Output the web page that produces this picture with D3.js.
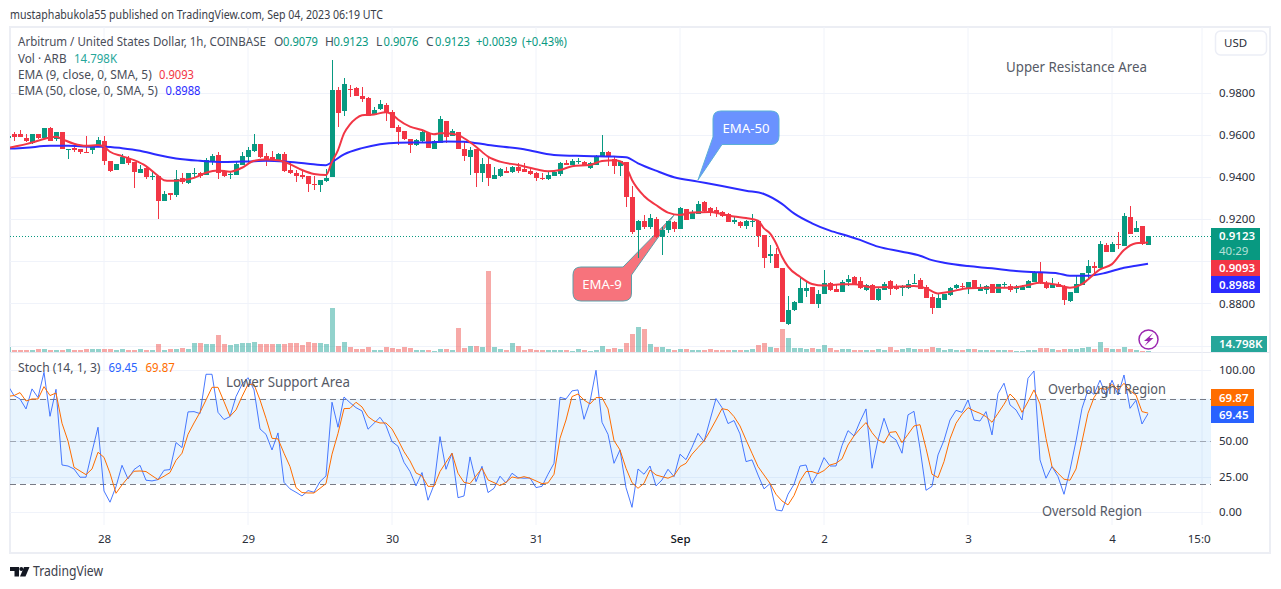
<!DOCTYPE html>
<html>
<head>
<meta charset="utf-8">
<script src="https://cdn.jsdelivr.net/npm/d3@7"></script>
<style>
  html, body { margin: 0; padding: 0; background: #fff; overflow: hidden; }
  text { font-family: "Noto Sans", sans-serif; }
</style>
</head>
<body>
<svg id="chart" width="1281" height="589"></svg>
<script>
// one entry per hourly bar, first bar is 27 Aug 08:00 UTC (just left of the pane)
const opens = [.9585,
  .9605,.9605,.9586,.9564,.9605,.9584,.9635,.9580,.9616,.9532,
  .9538,.9532,.9522,.9529,.9546,.9572,.9477,.9435,.9462,.9491,
  .9472,.9421,.9443,.9402,.9405,.9288,.9323,.9315,.9394,.9374,
  .9418,.9418,.9412,.9475,.9505,.9429,.9414,.9412,.9459,.9497,
  .9526,.9557,.9499,.9494,.9481,.9510,.9434,.9421,.9410,.9405,
  .9370,.9362,.9383,.9402,.9814,.9716,.9819,.9823,.9785,.9774,
  .9695,.9722,.9743,.9711,.9638,.9619,.9580,.9553,.9572,.9608,
  .9534,.9561,.9667,.9596,.9615,.9534,.9498,.9533,.9420,.9463,
  .9392,.9406,.9430,.9423,.9450,.9439,.9430,.9420,.9396,.9392,
  .9407,.9415,.9468,.9458,.9474,.9472,.9444,.9460,.9498,.9520,
  .9485,.9453,.9474,.9306,.9149,.9192,.9162,.9201,.9118,.9149,
  .9189,.9154,.9249,.9201,.9225,.9282,.9255,.9244,.9235,.9224,
  .9187,.9189,.9168,.9186,.9192,.9124,.9027,.9035,.8969,.8703,
  .8769,.8801,.8859,.8878,.8798,.8847,.8899,.8870,.8856,.8902,
  .8926,.8905,.8864,.8888,.8815,.8864,.8907,.8877,.8877,.8873,
  .8895,.8911,.8877,.8831,.8780,.8816,.8840,.8872,.8883,.8872,
  .8911,.8861,.8864,.8891,.8850,.8888,.8883,.8867,.8864,.8873,
  .8903,.8949,.8897,.8873,.8895,.8880,.8813,.8850,.8888,.8943,
  .8976,.8970,.9078,.9044,.9084,.9074,.9209,.9141,.9168,.9079]
const highs = [.9600,
  .9616,.9624,.9605,.9605,.9605,.9632,.9638,.9614,.9616,.9534,
  .9551,.9532,.9598,.9549,.9589,.9598,.9477,.9461,.9510,.9500,
  .9472,.9457,.9450,.9423,.9405,.9336,.9323,.9434,.9418,.9418,
  .9446,.9426,.9489,.9510,.9518,.9434,.9429,.9470,.9519,.9545,
  .9605,.9557,.9516,.9526,.9513,.9519,.9478,.9434,.9434,.9405,
  .9405,.9386,.9437,.9957,.9830,.9869,.9838,.9830,.9830,.9782,
  .9732,.9766,.9751,.9719,.9648,.9619,.9580,.9580,.9619,.9616,
  .9577,.9691,.9667,.9629,.9615,.9574,.9544,.9533,.9490,.9490,
  .9449,.9444,.9450,.9455,.9469,.9466,.9442,.9426,.9422,.9431,
  .9431,.9474,.9482,.9487,.9490,.9479,.9472,.9506,.9601,.9525,
  .9498,.9476,.9474,.9358,.9197,.9221,.9225,.9213,.9165,.9194,
  .9194,.9260,.9251,.9244,.9287,.9289,.9260,.9257,.9241,.9228,
  .9213,.9194,.9197,.9225,.9192,.9124,.9078,.9064,.8969,.8836,
  .8812,.8923,.8902,.8878,.8864,.8959,.8902,.8886,.8912,.8935,
  .8932,.8925,.8891,.8895,.8875,.8903,.8914,.8895,.8888,.8911,
  .8940,.8919,.8888,.8845,.8843,.8846,.8877,.8894,.8899,.8903,
  .8911,.8892,.8888,.8892,.8892,.8902,.8891,.8889,.8888,.8911,
  .8954,.8998,.8908,.8919,.8900,.8888,.8856,.8932,.8946,.9006,
  .8998,.9098,.9089,.9093,.9139,.9228,.9263,.9193,.9168,.9123]
const lows = [.9580,
  .9573,.9589,.9568,.9557,.9583,.9584,.9572,.9573,.9532,.9488,
  .9522,.9510,.9516,.9510,.9545,.9456,.9424,.9434,.9462,.9457,
  .9350,.9418,.9393,.9385,.9202,.9288,.9294,.9307,.9370,.9369,
  .9399,.9394,.9410,.9457,.9393,.9402,.9393,.9410,.9457,.9469,
  .9521,.9492,.9453,.9478,.9473,.9426,.9415,.9378,.9391,.9331,
  .9339,.9331,.9378,.9402,.9640,.9690,.9782,.9784,.9758,.9690,
  .9695,.9719,.9668,.9632,.9553,.9576,.9516,.9549,.9568,.9540,
  .9534,.9561,.9561,.9596,.9533,.9477,.9411,.9355,.9379,.9358,
  .9390,.9403,.9422,.9422,.9422,.9425,.9409,.9382,.9387,.9385,
  .9406,.9406,.9458,.9457,.9463,.9452,.9441,.9458,.9498,.9455,
  .9415,.9406,.9257,.9132,.9018,.9152,.9156,.9111,.9030,.9137,
  .9141,.9152,.9195,.9200,.9224,.9236,.9216,.9209,.9213,.9186,
  .9178,.9160,.9154,.9162,.9070,.8970,.8992,.8967,.8714,.8698,
  .8766,.8801,.8832,.8796,.8780,.8845,.8861,.8853,.8855,.8883,
  .8888,.8868,.8861,.8815,.8812,.8864,.8840,.8864,.8835,.8867,
  .8894,.8867,.8824,.8750,.8778,.8815,.8838,.8870,.8875,.8845,
  .8869,.8859,.8845,.8848,.8848,.8880,.8856,.8851,.8864,.8872,
  .8902,.8895,.8867,.8872,.8877,.8793,.8808,.8848,.8886,.8922,
  .8943,.8968,.9043,.9043,.9057,.9073,.9130,.9139,.9078,.9076]
const closes = [.9595,
  .9592,.9589,.9573,.9605,.9586,.9632,.9573,.9614,.9534,.9534,
  .9529,.9519,.9519,.9549,.9576,.9478,.9431,.9461,.9497,.9467,
  .9424,.9440,.9399,.9404,.9288,.9321,.9317,.9393,.9378,.9418,
  .9421,.9407,.9484,.9500,.9421,.9407,.9417,.9462,.9500,.9529,
  .9557,.9494,.9484,.9481,.9510,.9431,.9418,.9407,.9399,.9367,
  .9364,.9386,.9396,.9814,.9703,.9842,.9817,.9785,.9771,.9692,
  .9719,.9747,.9703,.9636,.9616,.9580,.9553,.9576,.9614,.9541,
  .9572,.9677,.9593,.9620,.9534,.9501,.9529,.9419,.9463,.9398,
  .9411,.9441,.9422,.9450,.9430,.9426,.9415,.9396,.9393,.9411,
  .9426,.9469,.9460,.9477,.9477,.9453,.9466,.9501,.9520,.9495,
  .9455,.9476,.9306,.9140,.9192,.9165,.9206,.9114,.9151,.9192,
  .9154,.9255,.9197,.9233,.9273,.9238,.9230,.9232,.9217,.9187,
  .9197,.9168,.9194,.9194,.9121,.9018,.9035,.8970,.8714,.8769,
  .8809,.8874,.8874,.8798,.8845,.8897,.8864,.8856,.8902,.8916,
  .8891,.8872,.8888,.8816,.8870,.8895,.8870,.8867,.8880,.8895,
  .8897,.8870,.8827,.8778,.8827,.8846,.8873,.8888,.8880,.8900,
  .8870,.8875,.8883,.8850,.8891,.8895,.8864,.8880,.8880,.8907,
  .8951,.8897,.8873,.8895,.8880,.8816,.8854,.8891,.8943,.8978,
  .8971,.9082,.9046,.9082,.9078,.9215,.9131,.9158,.9081,.9123]
// volume in thousands of ARB
const volumes = [50,
  20,20,20,20,30,30,20,20,20,30,
  20,20,30,30,30,30,30,20,30,20,
  20,30,20,20,80,20,30,30,40,30,
  90,90,80,80,170,80,70,80,90,90,
  100,80,80,80,80,80,90,90,70,100,
  90,90,80,440,60,100,50,30,30,50,
  20,20,50,40,30,50,40,20,20,20,
  10,30,30,20,240,40,60,60,50,810,
  50,30,20,90,60,20,30,20,20,20,
  20,20,20,10,30,20,10,20,60,30,
  40,30,90,180,250,230,80,50,50,30,
  20,30,30,20,20,20,30,20,20,20,
  20,20,20,30,70,90,50,40,230,140,
  40,40,30,40,30,70,40,20,30,30,
  20,20,20,20,30,20,50,20,30,40,
  30,30,30,50,40,20,30,20,20,30,
  30,20,20,20,20,20,20,10,10,20,
  20,40,40,30,20,30,30,30,40,50,
  30,100,40,30,30,50,30,20,10,14.798]
const stochK = [89.2,
  82.2,79.8,72.8,86.9,80.8,98.6,67.6,86.6,33.3,32.6,
  30.5,24.7,24.7,42.7,59.9,15.0,7.1,18.1,33.1,23.5,
  30.1,33.1,22.6,22.1,23.0,29.6,30.1,49.1,45.6,70.7,
  70.9,69.5,97.2,97.2,70.4,65.3,67.4,81.5,90.1,94.8,
  86.2,58.7,54.9,43.9,55.9,21.1,16.5,14.1,11.5,15.3,
  14.1,21.6,25.6,77.5,59.9,81.2,77.2,73.7,71.4,58.5,
  62.7,66.9,61.0,49.8,46.5,35.2,28.7,18.6,28.0,8.5,
  19.3,53.3,30.3,41.6,10.3,11.5,39.0,21.6,32.4,13.9,
  16.9,25.4,20.7,27.5,24.4,24.0,24.2,17.4,18.3,26.8,
  34.5,81.0,79.8,85.5,86.2,65.5,77.9,100.0,63.4,54.9,
  34.5,43.9,17.4,3.5,30.5,26.8,32.6,18.6,22.8,30.3,
  25.1,40.9,37.1,45.8,55.6,49.8,65.0,80.1,73.7,62.5,
  64.6,55.2,35.7,36.9,26.3,16.5,20.2,1.7,1.0,12.7,
  19.7,32.6,33.3,20.4,28.0,38.5,32.6,32.6,47.0,57.5,
  53.8,63.9,72.8,31.0,51.0,66.2,54.0,51.0,41.6,68.6,
  71.1,45.1,15.5,18.3,40.4,50.7,65.0,71.8,70.4,79.1,
  65.0,64.3,70.9,54.5,83.6,90.9,75.6,72.1,65.0,94.4,
  99.5,36.9,24.0,32.2,25.1,12.7,29.8,50.2,73.2,86.2,
  83.1,93.0,82.2,93.0,82.6,96.7,73.2,78.9,62.2,69.45]
const stochD = [81.7,
  82.2,84.3,78.4,79.8,79.8,88.5,82.2,84.0,62.7,50.2,
  31.7,29.1,26.5,30.5,42.3,38.7,27.5,13.4,19.3,24.4,
  28.9,29.1,28.7,25.8,23.0,25.4,28.0,36.6,41.6,54.9,
  62.9,70.4,79.1,88.0,88.0,77.9,67.6,72.1,81.5,90.1,
  90.1,79.1,66.2,52.1,51.7,41.6,32.2,17.4,13.9,13.6,
  13.6,16.9,20.2,40.9,55.6,73.0,73.2,77.5,74.2,67.4,
  64.3,62.9,62.9,58.7,51.0,42.7,36.2,27.7,25.6,18.3,
  18.3,28.7,35.2,41.6,27.5,21.1,20.2,25.6,31.0,22.8,
  20.9,18.8,21.1,24.9,24.0,25.1,24.0,22.1,20.2,20.7,
  26.8,52.1,65.0,81.5,83.3,79.1,76.3,80.8,80.8,72.8,
  50.5,43.9,31.0,20.9,16.9,20.4,29.8,26.3,25.1,24.0,
  25.8,32.2,34.5,40.9,45.6,50.2,57.3,65.0,73.0,72.1,
  67.4,60.8,51.0,41.6,32.2,26.3,20.4,12.7,8.0,5.2,
  11.8,22.1,28.7,28.7,27.2,29.4,33.3,34.5,37.6,47.4,
  53.8,58.7,63.2,56.1,51.0,48.8,56.3,56.8,49.1,54.9,
  60.8,61.7,45.1,26.8,24.4,35.7,51.7,62.7,69.0,73.7,
  71.4,69.7,67.4,63.4,69.7,76.1,83.3,79.1,70.4,77.9,
  86.2,76.3,52.1,32.2,27.5,23.3,22.6,30.5,49.8,69.7,
  80.8,87.3,86.6,90.1,86.2,90.9,85.5,82.6,70.9,69.87]
// moving averages at these bars
const ema9Bars = [-1,1,3,5,7,8,9,11,13,15,16,17,19,21,23,25,26,27,29,31,33,35,37,39,41,43,45,47,49,51,53,54,55,56,57,58,59,61,63,64,65,67,69,71,72,73,75,76,78,80,82,85,88,90,92,94,97,99,101,102,103,104,106,108,110,112,114,117,119,121,123,125,126,127,128,129,130,132,134,136,139,141,144,147,151,153,155,157,160,163,167,170,172,175,177,179,180,182,184,186,188,190]
const ema9 = [.9532,.9545,.9557,.9573,.9589,.9592,.9581,.9559,.9549,.9553,.9545,.9521,.9500,.9481,.9453,.9407,.9386,.9383,.9386,.9397,.9421,.9432,.9426,.9445,.9478,.9484,.9481,.9462,.9434,.9415,.9410,.9473,.9529,.9608,.9651,.9679,.9694,.9698,.9709,.9698,.9674,.9640,.9624,.9604,.9609,.9609,.9601,.9585,.9545,.9498,.9474,.9458,.9438,.9428,.9434,.9452,.9458,.9477,.9480,.9476,.9450,.9387,.9311,.9268,.9232,.9221,.9232,.9235,.9224,.9213,.9206,.9194,.9157,.9133,.9086,.9022,.8975,.8927,.8893,.8885,.8891,.8891,.8877,.8878,.8883,.8872,.8848,.8856,.8873,.8875,.8875,.8888,.8899,.8888,.8875,.8892,.8914,.8962,.8987,.9054,.9086,.9090]
const ema50Bars = [-1,3,7,10,14,16,19,22,25,28,32,36,40,43,46,50,53,54,56,59,62,65,70,73,76,80,86,91,96,101,103,105,108,111,115,119,123,126,129,131,134,137,140,142,145,149,152,154,156,160,164,168,172,175,177,180,183,186,188,190]
const ema50 = [.9534,.9540,.9549,.9549,.9545,.9545,.9538,.9526,.9505,.9489,.9478,.9472,.9475,.9478,.9475,.9464,.9457,.9472,.9508,.9538,.9557,.9564,.9565,.9570,.9569,.9553,.9533,.9506,.9501,.9498,.9495,.9466,.9431,.9400,.9379,.9358,.9336,.9320,.9273,.9228,.9181,.9146,.9121,.9102,.9070,.9046,.9027,.9006,.8994,.8978,.8967,.8954,.8948,.8943,.8932,.8932,.8946,.8970,.8979,.8989]

const priceLabels = [.98, .96, .94, .92, .88]
const priceGrid = [.98, .96, .94, .92, .90, .88, .86]
const stochLabels = [100, 50, 25, 0]
const timeTicks = ['2023-08-28','2023-08-29','2023-08-30','2023-08-31','2023-09-01','2023-09-02','2023-09-03','2023-09-04','2023-09-04T15:00']
const timeLabels = ['28','29','30','31','Sep','2','3','4','15:00']

const GREEN = '#089981', RED = '#f23645', BLUE = '#2b2bff'
const GRID = '#f0f3fa', BORDER = '#eceef4', TEXT = '#4a4e59', AXIS = '#2a2e39'

const HOUR = 3600000
const t0 = Date.UTC(2023, 7, 27, 8)
const paneL = 10, paneR = 1211

const x = d3.scaleUtc().domain([t0, t0 + 200 * HOUR]).range([8, 1208])
const bx = i => x(t0 + i * HOUR)
const yPrice = d3.scaleLinear().domain([.98, .86]).range([93, 345.6])
const yVol = d3.scaleLinear().domain([0, 810]).range([352, 271])
const yStoch = d3.scaleLinear().domain([0, 100]).range([512.3, 370.3])
const tickDates = timeTicks.map(d => new Date(d + (d.length > 10 ? 'Z' : 'T00:00Z')))

const svg = d3.select('#chart')

svg.append('defs').append('clipPath').attr('id', 'pane')
  .append('rect').attr('x', paneL).attr('y', 27).attr('width', paneR - paneL).attr('height', 498)
svg.select('defs').append('clipPath').attr('id', 'timeClip')
  .append('rect').attr('x', 0).attr('y', 525).attr('width', paneR).attr('height', 28)

// frame
svg.append('rect').attr('x', 10).attr('y', 27).attr('width', 1260).attr('height', 526)
  .attr('fill', 'none').attr('stroke', BORDER).attr('stroke-width', 2)
svg.append('line').attr('x1', 10).attr('x2', 1270).attr('y1', 352.5).attr('y2', 352.5)
  .attr('stroke', '#e6e8f0').attr('stroke-width', 1)

// grid
const grid = svg.append('g')
grid.selectAll('.vgrid').data(tickDates).enter().append('line')
  .attr('x1', d => x(d)).attr('x2', d => x(d))
  .attr('y1', 27).attr('y2', 525).attr('stroke', GRID)
grid.selectAll('.pgrid').data(priceGrid).enter().append('line')
  .attr('x1', paneL).attr('x2', paneR)
  .attr('y1', d => Math.round(yPrice(d)) + .5).attr('y2', d => Math.round(yPrice(d)) + .5)
  .attr('stroke', GRID).attr('stroke-width', 1.2)
grid.selectAll('.sgrid').data(stochLabels).enter().append('line')
  .attr('x1', paneL).attr('x2', paneR)
  .attr('y1', d => Math.round(yStoch(d)) + .5).attr('y2', d => Math.round(yStoch(d)) + .5)
  .attr('stroke', GRID).attr('stroke-width', 1.2)

// callouts sit under the candles
const ema50Tip = [bx(115), yPrice(.9387)]
const ema9Tip = [bx(111), yPrice(.9220)]
const c50 = d3.path()
c50.moveTo(721, 111); c50.lineTo(771, 111); c50.quadraticCurveTo(779, 111, 779, 119)
c50.lineTo(779, 136); c50.quadraticCurveTo(779, 144.5, 771, 144.5)
c50.lineTo(722, 144.5); c50.lineTo(ema50Tip[0], ema50Tip[1]); c50.lineTo(713, 137)
c50.lineTo(713, 119); c50.quadraticCurveTo(713, 111, 721, 111); c50.closePath()
svg.append('path').attr('d', c50.toString())
  .attr('fill', '#6a92ff').attr('stroke', '#5bb0d6').attr('stroke-width', 1)
const c9 = d3.path()
c9.moveTo(581, 267); c9.lineTo(623, 267); c9.lineTo(ema9Tip[0], ema9Tip[1]); c9.lineTo(631.5, 275)
c9.lineTo(631.5, 293); c9.quadraticCurveTo(631.5, 301, 623, 301)
c9.lineTo(581, 301); c9.quadraticCurveTo(573, 301, 573, 293)
c9.lineTo(573, 275); c9.quadraticCurveTo(573, 267, 581, 267); c9.closePath()
svg.append('path').attr('d', c9.toString())
  .attr('fill', '#f7737c').attr('stroke', '#5f9ea8').attr('stroke-width', 1)
svg.append('text').attr('x', 746).attr('y', 128).attr('dy', '.35em').attr('text-anchor', 'middle')
  .attr('fill', '#fff').style('font-size', '13.2px').text('EMA-50')
svg.append('text').attr('x', 602).attr('y', 284).attr('dy', '.35em').attr('text-anchor', 'middle')
  .attr('fill', '#fff').style('font-size', '13.2px').text('EMA-9')

// stoch band and levels
const stochPane = svg.append('g').attr('clip-path', 'url(#pane)')
stochPane.append('rect').attr('x', paneL).attr('width', paneR - paneL)
  .attr('y', yStoch(80)).attr('height', yStoch(20) - yStoch(80))
  .attr('fill', '#2196f3').attr('fill-opacity', .1)
stochPane.selectAll('.level').data([80, 50, 20]).enter().append('line')
  .attr('x1', paneL).attr('x2', paneR)
  .attr('y1', d => Math.round(yStoch(d)) + .5).attr('y2', d => Math.round(yStoch(d)) + .5)
  .attr('stroke', '#787b86').attr('stroke-opacity', d => d === 50 ? .6 : 1)
  .attr('stroke-dasharray', '6 4')

const bars = d3.range(closes.length)
const main = svg.append('g').attr('clip-path', 'url(#pane)')

// volume
main.selectAll('.vol').data(bars).enter().append('rect')
  .attr('x', i => bx(i) - 2.5).attr('width', 5)
  .attr('y', i => yVol(volumes[i])).attr('height', i => yVol(0) - yVol(volumes[i]))
  .attr('fill', i => closes[i] >= opens[i] ? '#26a69a' : '#ef5350').attr('fill-opacity', .5)
  .attr('shape-rendering', 'crispEdges')

// last price line
main.append('line').attr('x1', paneL).attr('x2', paneR)
  .attr('y1', Math.round(yPrice(closes[190])) + .5).attr('y2', Math.round(yPrice(closes[190])) + .5)
  .attr('stroke', '#089981').attr('stroke-dasharray', '1 2').attr('shape-rendering', 'crispEdges')

// candles
const candle = main.selectAll('.candle').data(bars).enter().append('g')
  .attr('shape-rendering', 'crispEdges')
  .attr('fill', i => closes[i] >= opens[i] ? GREEN : RED)
candle.append('rect').attr('x', i => bx(i) - .5).attr('width', 1)
  .attr('y', i => yPrice(highs[i])).attr('height', i => yPrice(lows[i]) - yPrice(highs[i]))
candle.append('rect').attr('x', i => bx(i) - 2.5).attr('width', 5)
  .attr('y', i => yPrice(Math.max(opens[i], closes[i])))
  .attr('height', i => Math.max(1, Math.abs(yPrice(opens[i]) - yPrice(closes[i]))))

// EMA lines
const emaLine = (bars, vals) => d3.line().x(i => bx(bars[i])).y(i => yPrice(vals[i]))
  .curve(d3.curveMonotoneX)(d3.range(bars.length))
main.append('path').attr('d', emaLine(ema50Bars, ema50)).attr('fill', 'none')
  .attr('stroke', BLUE).attr('stroke-width', 2)
main.append('path').attr('d', emaLine(ema9Bars, ema9)).attr('fill', 'none')
  .attr('stroke', RED).attr('stroke-width', 2)

// stochastic lines
const stochLine = vals => d3.line().x(i => bx(i)).y(i => yStoch(vals[i]))(bars)
main.append('path').attr('d', stochLine(stochK)).attr('fill', 'none')
  .attr('stroke', '#2962ff').attr('stroke-width', 1).attr('stroke-opacity', .85)
main.append('path').attr('d', stochLine(stochD)).attr('fill', 'none')
  .attr('stroke', '#ff6d00').attr('stroke-width', 1)

// axes
const priceAxis = d3.axisRight(yPrice).tickValues(priceLabels).tickSize(0).tickPadding(0)
  .tickFormat(d3.format('.4f'))
const gP = svg.append('g').attr('transform', 'translate(1219,0)').call(priceAxis)
const stochAxis = d3.axisRight(yStoch).tickValues(stochLabels).tickSize(0).tickPadding(0)
  .tickFormat(d3.format('.2f'))
const gS = svg.append('g').attr('transform', 'translate(1219,0)').call(stochAxis)
const timeAxis = d3.axisBottom(x).tickValues(tickDates).tickSize(0).tickPadding(0)
  .tickFormat((d, i) => timeLabels[i])
const gT = svg.append('g').attr('clip-path', 'url(#timeClip)').append('g')
  .attr('transform', 'translate(0,535)').call(timeAxis)
;[gP, gS, gT].forEach(g => {
  g.select('.domain').remove()
  g.selectAll('text').attr('fill', AXIS).style('font-size', '11.5px').style('font-family', '"Noto Sans", sans-serif')
})
gT.selectAll('text').filter((d, i) => timeLabels[i] === 'Sep').style('font-weight', 500).attr('fill', '#131722')

// right side value labels
function tag(top, bottom, right, fill, label, cy) {
  svg.append('rect').attr('x', 1211).attr('y', top).attr('width', right - 1211).attr('height', bottom - top)
    .attr('fill', fill).attr('shape-rendering', 'crispEdges')
  svg.append('text').attr('x', 1219).attr('y', cy).attr('dy', '.35em').attr('fill', '#fff')
    .style('font-size', '11.5px').style('font-weight', 600).text(label)
}
tag(228, 259.5, 1259.5, GREEN, '0.9123', 236)
svg.append('text').attr('x', 1219).attr('y', 251).attr('dy', '.35em').attr('fill', '#b5e0d8')
  .style('font-size', '11.5px').text('40:29')
tag(259.5, 276, 1259.5, RED, '0.9093', 268)
tag(276, 293, 1259.5, BLUE, '0.8988', 284.5)
tag(336, 352, 1267, '#26a69a', '14.798K', 344)
tag(389, 406, 1254, '#ff6d00', '69.87', 397.5)
tag(406, 423, 1254, '#2962ff', '69.45', 414.5)

// USD button
svg.append('rect').attr('x', 1215.5).attr('y', 31).attr('width', 51).attr('height', 24).attr('rx', 5)
  .attr('fill', '#fff').attr('stroke', '#eceef6').attr('stroke-width', 1.5)
svg.append('text').attr('x', 1224).attr('y', 43).attr('dy', '.35em').attr('fill', AXIS)
  .style('font-size', '11.5px').text('USD')

// text helper, len squeezes the run to the width measured on the reference
function label(px, py, str, color, size, len) {
  const t = svg.append('text').attr('x', px).attr('y', py).attr('dy', '.35em')
    .attr('fill', color).style('font-size', (size || 12) + 'px').text(str)
  if (len) t.attr('textLength', len).attr('lengthAdjust', 'spacingAndGlyphs')
}
label(10, 15, 'mustaphabukola55 published on TradingView.com, Sep 04, 2023 06:19 UTC', '#3a3e49', 12, 373)

// legend
label(18, 42, 'Arbitrum / United States Dollar, 1h, COINBASE', TEXT, 12, 248)
const ohlcHeads = [['O', 274, '0.9079', 283], ['H', 325, '0.9123', 333.5], ['L', 376, '0.9076', 383.5], ['C', 426, '0.9123', 435]]
ohlcHeads.forEach(h => { label(h[1], 42, h[0], TEXT); label(h[3], 42, h[2], GREEN, 12, 35) })
label(476, 42, '+0.0039', GREEN, 12, 41)
label(522, 42, '(+0.43%)', GREEN, 12, 45)
label(18, 59, 'Vol · ARB', TEXT, 12, 48.5)
label(74, 59, '14.798K', '#26a69a', 12, 43)
label(18, 75, 'EMA (9, close, 0, SMA, 5)', TEXT, 12, 133.7)
label(159, 75, '0.9093', RED, 12, 35)
label(18, 91, 'EMA (50, close, 0, SMA, 5)', TEXT, 12, 139.7)
label(165.5, 91, '0.8988', BLUE, 12, 35)
label(18, 368, 'Stoch (14, 1, 3)', TEXT, 12, 82.5)
label(108.5, 368, '69.45', '#2962ff', 12, 29)
label(145.5, 368, '69.87', '#ff6d00', 12, 29.3)

// drawn notes
label(1006, 67, 'Upper Resistance Area', '#565a66', 13.5, 141)
label(226, 382, 'Lower Support Area', '#565a66', 13.5, 124)
label(1048, 389, 'Overbought Region', '#565a66', 13.5, 118)
label(1042, 511, 'Oversold Region', '#565a66', 13.5, 100)

// zap icon
svg.append('circle').attr('cx', 1148.5).attr('cy', 339.5).attr('r', 9.5)
  .attr('fill', '#fff').attr('stroke', '#9c27b0').attr('stroke-width', 1.5)
svg.append('path').attr('d', 'M1153 333 L1144 341 L1148 341 L1144.5 346 L1153.5 338 L1149.5 338 Z')
  .attr('fill', '#9c27b0')

// footer logo
svg.append('path').attr('d', 'M10 567 H19 V576.5 H14.5 V571 H10 Z').attr('fill', '#131722')
svg.append('circle').attr('cx', 21.3).attr('cy', 569).attr('r', 2).attr('fill', '#131722')
svg.append('path').attr('d', 'M24 567 H29.5 L25.5 576.5 H20 Z').attr('fill', '#131722')
label(33, 571, 'TradingView', '#3c404b', 13.5, 70)
</script>
</body>
</html>
